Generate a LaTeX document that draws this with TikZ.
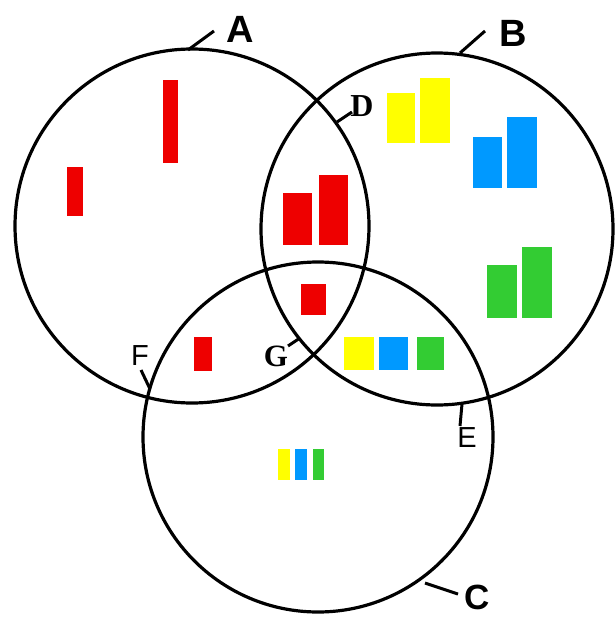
\documentclass[tikz,border=0pt]{standalone}
\usepackage{fontspec}
\setmainfont{Liberation Sans}
\newfontfamily\serifb{Liberation Serif}
\definecolor{vred}{RGB}{238,0,0}
\definecolor{vyel}{RGB}{255,255,0}
\definecolor{vblue}{RGB}{0,153,255}
\definecolor{vgreen}{RGB}{51,204,51}
\begin{document}
\begin{tikzpicture}[x=1pt,y=-1pt,
  ring/.style={draw=black,line width=3.2pt,circle,inner sep=0pt},
  tick/.style={draw=black,line width=3pt},
  lab/.style={inner sep=0pt,font=\fontsize{38}{38}\selectfont\bfseries},
  mlab/.style={inner sep=0pt,font=\fontsize{29}{29}\selectfont},
  slab/.style={inner sep=0pt,font=\serifb\bfseries\fontsize{32}{32}\selectfont}]
\useasboundingbox (0,0) rectangle (614,618);
\fill[white] (0,0) rectangle (614,618);
% bars
\fill[vred] (163,80) rectangle (178,163);
\fill[vred] (67,167) rectangle (83,216);
\fill[vred] (283,193) rectangle (312,245);
\fill[vred] (319,175) rectangle (348,245);
\fill[vred] (301,284) rectangle (326,315);
\fill[vred] (194,337) rectangle (212,371);
\fill[vyel] (387,93) rectangle (415,143);
\fill[vyel] (420,78) rectangle (450,143);
\fill[vblue] (473,137) rectangle (502,188);
\fill[vblue] (507,117) rectangle (537,188);
\fill[vgreen] (487,265) rectangle (517,318);
\fill[vgreen] (522,247) rectangle (552,318);
\fill[vyel] (344,337) rectangle (374,370);
\fill[vblue] (379,337) rectangle (408,370);
\fill[vgreen] (417,337) rectangle (444,370);
\fill[vyel] (278,449) rectangle (290,480);
\fill[vblue] (295,449) rectangle (307,480);
\fill[vgreen] (313,449) rectangle (324,480);
% circles
\node[ring,minimum size=354pt] (cA) at (192,226) {};
\node[ring,minimum size=352pt] (cB) at (437,229) {};
\node[ring,minimum size=350pt] (cC) at (318,437) {};
% labels
\node[lab] (A) at (240,29) {A};
\node[lab] (B) at (513,33) {B};
\node[lab,font=\fontsize{35}{35}\selectfont\bfseries] (C) at (477,597) {C};
\node[slab] (D) at (362,106) {D};
\node[mlab] (E) at (467,438) {E};
\node[mlab] (F) at (140,356) {F};
\node[slab,font=\serifb\bfseries\fontsize{31}{31}\selectfont] (G) at (276,356) {G};
% ticks
\coordinate (pA) at (188,50);  \coordinate (qA) at (214,31);
\coordinate (pB) at (460,53);  \coordinate (qB) at (485,31);
\coordinate (pC) at (425,583); \coordinate (qC) at (458,594);
\coordinate (pD) at (337,122); \coordinate (qD) at (352,112);
\coordinate (pE) at (462,404); \coordinate (qE) at (460,426);
\coordinate (pF) at (150,389); \coordinate (qF) at (141,370);
\coordinate (pG) at (300,338); \coordinate (qG) at (288,346);
\draw[tick] (pA) -- (qA);
\draw[tick] (pB) -- (qB);
\draw[tick] (pC) -- (qC);
\draw[tick] (pD) -- (qD);
\draw[tick] (pE) -- (qE);
\draw[tick] (pF) -- (qF);
\draw[tick] (pG) -- (qG);
\end{tikzpicture}
\end{document}
